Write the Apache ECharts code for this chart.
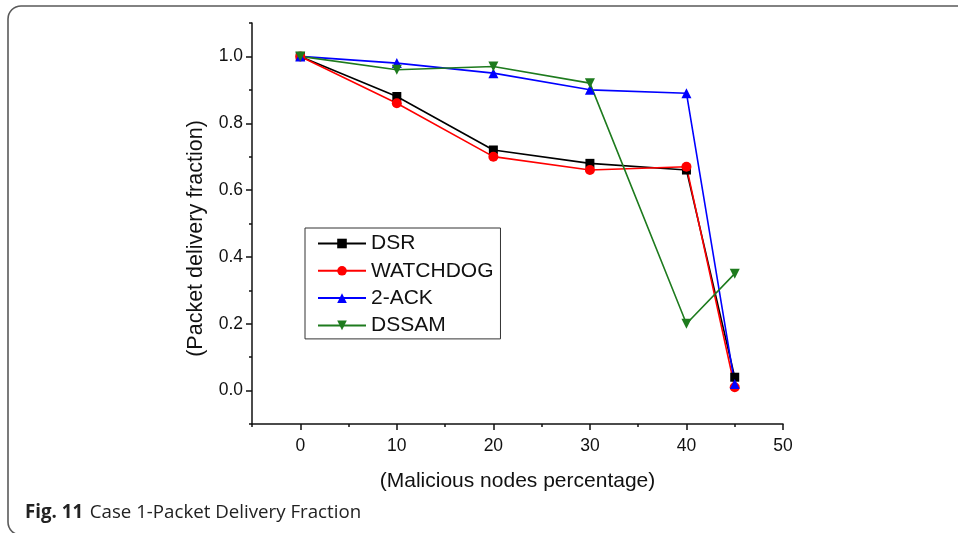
<!DOCTYPE html>
<html>
<head>
<meta charset="utf-8">
<script src="https://cdn.jsdelivr.net/npm/echarts@6/dist/echarts.min.js"></script>
<style>
html,body{margin:0;padding:0;background:#fff;}
#chart{width:958px;height:533px;}
</style>
</head>
<body>
<div id="chart"></div>
<script>
var xValues = [0, 10, 20, 30, 40, 45];
var seriesNames = ['DSR', 'WATCHDOG', '2-ACK', 'DSSAM'];
var dsr = [1.0, 0.88, 0.72, 0.68, 0.66, 0.04];
var watchdog = [1.0, 0.86, 0.70, 0.66, 0.67, 0.01];
var ack2 = [1.0, 0.98, 0.95, 0.90, 0.89, 0.02];
var dssam = [1.0, 0.96, 0.97, 0.92, 0.20, 0.35];
var xTickLabels = [0, 10, 20, 30, 40, 50];
var xMinorTicks = [-5, 5, 15, 25, 35, 45];
var yTickLabels = [0, 0.2, 0.4, 0.6, 0.8, 1.0];
var yMinorTicks = [-0.1, 0.1, 0.3, 0.5, 0.7, 0.9, 1.1];
var xAxisTitle = '(Malicious nodes percentage)';
var yAxisTitle = '(Packet delivery fraction)';
var captionBold = 'Fig. 11';
var captionText = 'Case 1-Packet Delivery Fraction';

function pairs(vals) { return xValues.map(function (x, i) { return [x, vals[i]]; }); }

var colors = ['#000000', '#ff0000', '#0000ff', '#1e7b1e'];
var symbols = ['rect', 'circle', 'triangle', 'triangle'];
var rotates = [0, 0, 0, 180];
var allData = [dsr, watchdog, ack2, dssam];

var font = '"Liberation Sans", Arial, sans-serif';

var series = seriesNames.map(function (n, i) {
  return {
    name: n, type: 'line', xAxisIndex: 0, yAxisIndex: 0,
    data: pairs(allData[i]),
    symbol: symbols[i], symbolSize: i === 0 ? 9 : 10, symbolRotate: rotates[i],
    showSymbol: true,
    lineStyle: { color: colors[i], width: 1.6 },
    itemStyle: { color: colors[i] },
    emphasis: { disabled: true },
    animation: false
  };
});

var chart = echarts.init(document.getElementById('chart'));
chart.setOption({
  animation: false,
  backgroundColor: '#fff',
  grid: { left: 252, right: 175, top: 23, bottom: 109 },
  legend: {
    orient: 'vertical', left: 305, top: 228,
    data: seriesNames,
    itemWidth: 48, itemHeight: 12, itemGap: 6.3,
    padding: [5, 7, 3, 12],
    borderColor: '#333', borderWidth: 1,
    textStyle: { fontFamily: font, fontSize: 21, color: '#111', lineHeight: 20 }
  },
  xAxis: [{
    type: 'value', min: -5, max: 50,
    name: xAxisTitle, nameLocation: 'middle', nameGap: 47,
    nameTextStyle: { fontFamily: font, fontSize: 21, color: '#111' },
    axisLine: { show: true, onZero: false, lineStyle: { color: '#111', width: 1.5 } },
    axisTick: { show: true, inside: false, length: 6, customValues: xTickLabels, lineStyle: { color: '#111', width: 1.5 } },
    axisLabel: { show: true, customValues: xTickLabels, margin: 13, fontFamily: font, fontSize: 17.5, color: '#111' },
    splitLine: { show: false }
  }, {
    type: 'value', min: -5, max: 50, position: 'bottom',
    axisLine: { show: false, onZero: false },
    axisTick: { show: true, inside: false, length: 3, customValues: xMinorTicks, lineStyle: { color: '#111', width: 1.5 } },
    axisLabel: { show: false },
    splitLine: { show: false }
  }],
  yAxis: [{
    type: 'value', min: -0.1, max: 1.1,
    name: yAxisTitle, nameLocation: 'middle', nameGap: 45, nameRotate: 90,
    nameTextStyle: { fontFamily: font, fontSize: 21.5, color: '#111', padding: [0, 30, 0, 0] },
    axisLine: { show: true, onZero: false, lineStyle: { color: '#111', width: 1.5 } },
    axisTick: { show: true, inside: false, length: 6, customValues: yTickLabels, lineStyle: { color: '#111', width: 1.5 } },
    axisLabel: { show: true, customValues: yTickLabels, margin: 9, fontFamily: font, fontSize: 17.5, color: '#111',
      formatter: function (v) { return v.toFixed(1); } },
    splitLine: { show: false }
  }, {
    type: 'value', min: -0.1, max: 1.1, position: 'left',
    axisLine: { show: false, onZero: false },
    axisTick: { show: true, inside: false, length: 3, customValues: yMinorTicks, lineStyle: { color: '#111', width: 1.5 } },
    axisLabel: { show: false },
    splitLine: { show: false }
  }],
  graphic: [{
    type: 'rect',
    shape: { x: 8, y: 6, width: 1100, height: 529, r: 13 },
    style: { fill: 'none', stroke: '#5a5a5a', lineWidth: 1.6 },
    silent: true
  }, {
    type: 'text', left: 25, top: 503,
    style: {
      text: '{b|' + captionBold + '}  {r|' + captionText + '}',
      rich: {
        b: { fontFamily: '"Open Sans", "Noto Sans", sans-serif', fontWeight: 'bold', fontSize: 18.7, fill: '#222' },
        r: { fontFamily: '"Open Sans", "Noto Sans", sans-serif', fontSize: 18.7, fill: '#222' }
      }
    }
  }],
  series: series
});
</script>
</body>
</html>
